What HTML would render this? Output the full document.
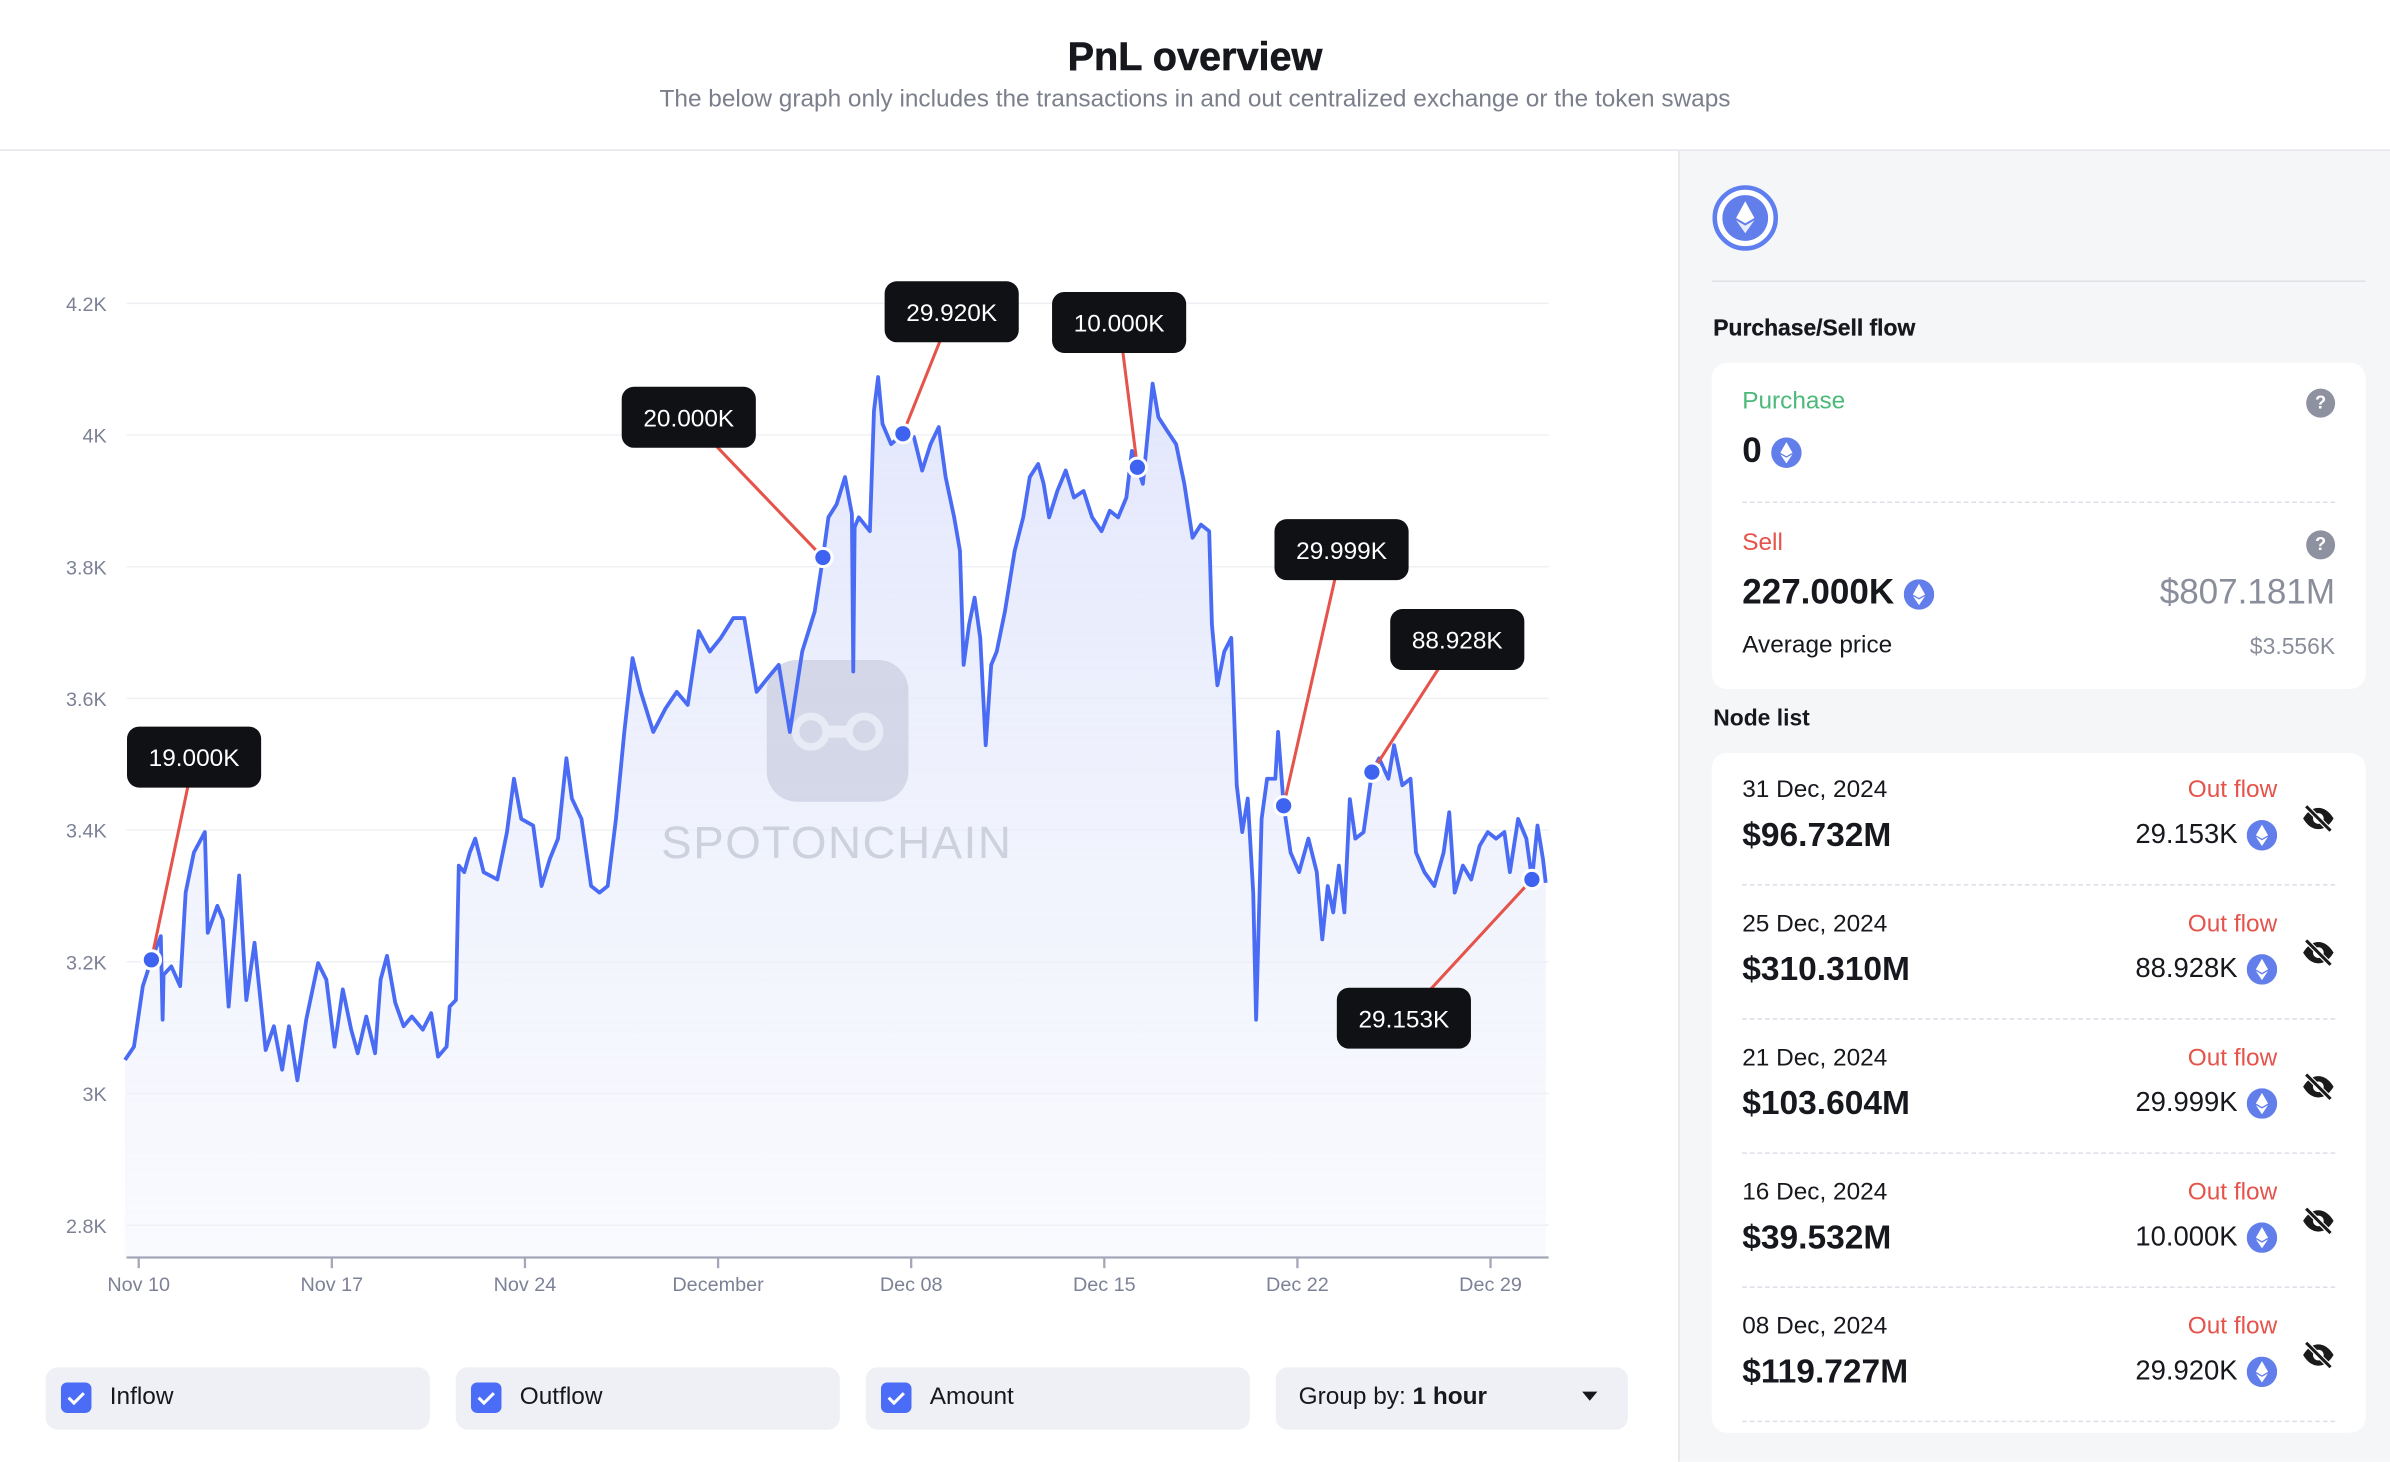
<!DOCTYPE html>
<html><head><meta charset="utf-8">
<style>
html,body{margin:0;padding:0;background:#fff;overflow:hidden;}
body{width:2390px;height:1462px;}
#root{position:absolute;left:0;top:0;width:1568px;height:959px;transform:scale(1.52423);transform-origin:0 0;font-family:"Liberation Sans",sans-serif;color:#16181d;}
.abs{position:absolute;}
.title{left:0;width:1568px;top:22px;text-align:center;font-size:26px;font-weight:bold;-webkit-text-stroke:0.4px #16181d;}
.sub{left:0;width:1568px;top:57px;text-align:center;font-size:16px;color:#7b7f8c;}
.hline{left:0;top:98px;width:1568px;height:1px;background:#e3e5ea;}
.right{left:1101px;top:99px;width:467px;height:860px;background:#f5f6f8;border-left:1px solid #e3e5ea;}
.card{background:#fff;border-radius:10px;}
.lg{top:897px;height:41px;background:#eef0f5;border-radius:8px;font-size:16px;}
.cb{position:absolute;left:10px;top:10px;width:20px;height:20px;background:#4a6cf7;border-radius:4px;}
.lg span.t{position:absolute;left:42px;top:11px;}
.eth{display:inline-block;width:20px;height:20px;vertical-align:middle;}
.row .d{position:absolute;left:20px;font-size:16px;}
.row .v{position:absolute;left:20px;font-size:22px;font-weight:bold;}
.row .o{position:absolute;right:58px;font-size:16px;color:#e5534b;}
.row .a{position:absolute;right:58px;font-size:18px;}
.sep{position:absolute;left:20px;right:20px;height:0;border-top:1px dashed #dcdfe6;}
</style></head><body>
<div id="root">
<div class="abs title">PnL overview</div>
<div class="abs sub">The below graph only includes the transactions in and out centralized exchange or the token swaps</div>
<div class="abs hline"></div>

<svg class="abs" style="left:0;top:0" width="1100" height="880" id="chart">
<defs><linearGradient id="fillg" x1="0" y1="0" x2="0" y2="1"><stop offset="0" stop-color="#dfe4fb" stop-opacity="0.9"/><stop offset="1" stop-color="#f3f5fd" stop-opacity="0.5"/></linearGradient></defs>
<g id="grid"></g>
<path id="area" fill="url(#fillg)"/>
<g id="wm">
<rect x="503" y="433" width="93" height="93" rx="20" fill="#cdd1e2" opacity="0.8"/>
<circle cx="532" cy="480" r="10" fill="none" stroke="#e8ebf5" stroke-width="5"/>
<circle cx="567" cy="480" r="10" fill="none" stroke="#e8ebf5" stroke-width="5"/>
<rect x="540" y="476" width="19" height="8" fill="#e8ebf5"/>
<text x="549" y="563" text-anchor="middle" font-size="30" fill="#cdd0dd" font-family="Liberation Sans" letter-spacing="1">SPOTONCHAIN</text>
</g>
<path id="line" fill="none" stroke="#4a6cf4" stroke-width="2.5" stroke-linejoin="round"/>
<g id="axis"></g>
<g id="ann"></g>
</svg>

<div class="abs lg" style="left:30px;width:252px"><div class="cb"><svg width="20" height="20"><path d="M5 10l3.5 3.5L15 7" stroke="#fff" stroke-width="2" fill="none"/></svg></div><span class="t">Inflow</span></div>
<div class="abs lg" style="left:299px;width:252px"><div class="cb"><svg width="20" height="20"><path d="M5 10l3.5 3.5L15 7" stroke="#fff" stroke-width="2" fill="none"/></svg></div><span class="t">Outflow</span></div>
<div class="abs lg" style="left:568px;width:252px"><div class="cb"><svg width="20" height="20"><path d="M5 10l3.5 3.5L15 7" stroke="#fff" stroke-width="2" fill="none"/></svg></div><span class="t">Amount</span></div>
<div class="abs lg" style="left:837px;width:231px"><span style="position:absolute;left:15px;top:11px">Group by: <b>1 hour</b></span><span style="position:absolute;right:20px;top:16px;width:0;height:0;border-left:5px solid transparent;border-right:5px solid transparent;border-top:6px solid #16181d"></span></div>

<div class="abs right">
 <svg class="abs" style="left:21px;top:22px" width="44" height="44"><circle cx="22" cy="22" r="20" fill="#fff" stroke="#5f7ff0" stroke-width="3"/><circle cx="22" cy="22" r="15" fill="#627eea"/><path d="M22 11l-6 11 6 3.5 6-3.5z" fill="#fff"/><path d="M22 27l-6-3.5 6 8.5 6-8.5z" fill="#fff" opacity=".85"/></svg>
 <div class="abs" style="left:21px;top:85px;width:429px;height:1px;background:#dfe1e7"></div>
 <div class="abs" style="left:22px;top:108px;font-size:15px;font-weight:bold;-webkit-text-stroke:0.2px #16181d">Purchase/Sell flow</div>
 <div class="abs card" style="left:21px;top:139px;width:429px;height:214px">
  <div class="abs" style="left:20px;top:17px;font-size:16px;color:#4cb97a">Purchase</div>
  <div class="abs" style="right:20px;top:17px;width:19px;height:19px;border-radius:50%;background:#8d91a0;color:#fff;font-size:12px;text-align:center;line-height:19px;font-weight:bold">?</div>
  <div class="abs" style="left:20px;top:44px;font-size:23px;font-weight:bold">0 <svg class="eth" viewBox="0 0 20 20"><circle cx="10" cy="10" r="10" fill="#627eea"/><path d="M10 3l-4 7 4 2.3 4-2.3z M10 13.3l-4-2.3 4 6 4-6z" fill="#fff"/></svg></div>
  <div class="sep" style="top:91px"></div>
  <div class="abs" style="left:20px;top:110px;font-size:16px;color:#e5534b">Sell</div>
  <div class="abs" style="right:20px;top:110px;width:19px;height:19px;border-radius:50%;background:#8d91a0;color:#fff;font-size:12px;text-align:center;line-height:19px;font-weight:bold">?</div>
  <div class="abs" style="left:20px;top:137px;font-size:23px;font-weight:bold">227.000K <svg class="eth" viewBox="0 0 20 20"><circle cx="10" cy="10" r="10" fill="#627eea"/><path d="M10 3l-4 7 4 2.3 4-2.3z M10 13.3l-4-2.3 4 6 4-6z" fill="#fff"/></svg></div>
  <div class="abs" style="right:20px;top:137px;font-size:23px;color:#8a8e9b">$807.181M</div>
  <div class="abs" style="left:20px;top:177px;font-size:16px">Average price</div>
  <div class="abs" style="right:20px;top:178px;font-size:15px;color:#8a8e9b">$3.556K</div>
 </div>
 <div class="abs" style="left:22px;top:364px;font-size:15px;font-weight:bold">Node list</div>
 <div class="abs card" style="left:21px;top:395px;width:429px;height:446px;overflow:hidden" id="nodes"></div>
</div>
</div>
<script>
// ---- chart data ----
const days=[-0.5,-0.17,0.15,0.46,0.8,0.87,0.9,1.18,1.5,1.7,2.0,2.4,2.5,2.85,3.05,3.26,3.64,3.9,4.2,4.6,4.9,5.2,5.45,5.75,6.07,6.5,6.8,7.1,7.4,7.7,7.94,8.25,8.57,8.77,9.0,9.3,9.6,9.9,10.3,10.6,10.85,11.16,11.27,11.5,11.6,11.8,12.0,12.2,12.5,13.0,13.35,13.6,13.87,14.3,14.6,14.9,15.2,15.5,15.7,16.05,16.4,16.7,17.0,17.3,17.6,17.9,18.2,18.65,19.1,19.5,19.9,20.3,20.7,21.1,21.55,21.95,22.4,22.8,23.2,23.6,24.05,24.5,24.8,25.0,25.3,25.6,25.85,25.9,25.95,26.1,26.5,26.65,26.8,26.96,27.27,27.7,28.1,28.4,28.7,29.0,29.25,29.56,29.77,29.9,30.1,30.3,30.5,30.7,30.9,31.1,31.4,31.75,32.06,32.3,32.6,32.8,33.0,33.3,33.6,33.9,34.25,34.56,34.9,35.2,35.5,35.8,36.0,36.2,36.4,36.75,36.96,37.27,37.6,37.9,38.2,38.5,38.8,38.9,39.1,39.35,39.6,39.8,40.0,40.2,40.4,40.5,40.7,40.9,41.2,41.3,41.5,41.75,42.06,42.4,42.7,42.9,43.1,43.3,43.5,43.7,43.9,44.1,44.4,44.7,44.96,45.3,45.5,45.8,46.1,46.3,46.6,46.96,47.3,47.5,47.7,48.0,48.3,48.6,48.9,49.2,49.5,49.7,50.0,50.3,50.5,50.7,50.9,51.0];
const prices=[3051,3071,3163,3203,3239,3112,3180,3193,3163,3305,3366,3397,3244,3285,3264,3132,3331,3142,3229,3066,3102,3036,3102,3020,3112,3198,3173,3071,3158,3097,3061,3117,3061,3173,3209,3138,3102,3117,3097,3122,3056,3071,3132,3142,3346,3336,3366,3387,3336,3325,3397,3478,3417,3407,3315,3356,3387,3509,3448,3417,3315,3305,3315,3417,3549,3661,3610,3549,3585,3610,3590,3702,3671,3692,3722,3722,3610,3631,3651,3549,3671,3732,3814,3875,3895,3936,3880,3641,3860,3875,3854,4037,4088,4017,3986,4002,3997,3946,3986,4012,3936,3875,3824,3651,3712,3753,3692,3529,3651,3671,3732,3824,3875,3936,3956,3926,3875,3915,3946,3905,3915,3875,3854,3885,3875,3905,3976,3951,3926,4078,4027,4007,3986,3926,3844,3864,3854,3712,3620,3671,3692,3468,3397,3448,3305,3112,3417,3478,3478,3549,3437,3366,3336,3387,3336,3234,3315,3275,3346,3275,3447,3387,3397,3488,3509,3478,3529,3468,3478,3366,3336,3315,3366,3427,3305,3346,3325,3376,3397,3387,3397,3336,3417,3387,3325,3407,3356,3320];
const yTicks=[2800,3000,3200,3400,3600,3800,4000,4200];
const yTickLabels=["2.8K","3K","3.2K","3.4K","3.6K","3.8K","4K","4.2K"];
const xTickDays=[0,7,14,21,28,35,42,49];
const xTickLabels=["Nov 10","Nov 17","Nov 24","December","Dec 08","Dec 15","Dec 22","Dec 29"];
const markerDays=[0.46,24.8,27.7,36.2,41.5,44.7,50.5];
const markerPrices=[3203,3814,4002,3951,3437,3488,3325];
const markerLabels=["19.000K","20.000K","29.920K","10.000K","29.999K","88.928K","29.153K"];
const labelOffsets=[[28,-133],[-88,-92],[32,-80],[-12,-95],[38,-168],[56,-87],[-84,91]];

const X=d=>91+d*18.1;
const Y=p=>199+(4200-p)/200*86.4;
const NS="http://www.w3.org/2000/svg";
function mk(tag,attrs,parent){const e=document.createElementNS(NS,tag);for(const k in attrs)e.setAttribute(k,attrs[k]);parent.appendChild(e);return e;}
const grid=document.getElementById('grid');
yTicks.forEach((t,i)=>{
 const l=mk('line',{x1:83,x2:1016,y1:Y(t),y2:Y(t),stroke:'#eef0f4','stroke-width':1},grid);
 
 
 const tx=mk('text',{x:70,y:Y(t)+5,'text-anchor':'end','font-size':13,fill:'#7d8196','font-family':'Liberation Sans'},grid);
 tx.textContent=yTickLabels[i];
 
 
});
let d='';days.forEach((dd,i)=>{d+=(i?'L':'M')+X(dd).toFixed(1)+' '+Y(prices[i]).toFixed(1);});
document.getElementById('line').setAttribute('d',d);
document.getElementById('line');
document.getElementById('line');
const area=document.getElementById('area');
area.setAttribute('d',d+'L'+X(days[days.length-1]).toFixed(1)+' 825L'+X(days[0]).toFixed(1)+' 825Z');


const ax=document.getElementById('axis');
const al=mk('line',{x1:83,x2:1016,y1:825,y2:825,stroke:'#a3a7b8','stroke-width':1.5},ax);


xTickDays.forEach((t,i)=>{
 mk('line',{x1:X(t),x2:X(t),y1:825,y2:832,stroke:'#a3a7b8','stroke-width':1.5},ax);
 const tx=mk('text',{x:X(t),y:847,'text-anchor':'middle','font-size':13,fill:'#7d8196','font-family':'Liberation Sans'},ax);
 tx.textContent=xTickLabels[i];
 
 
});
const ann=document.getElementById('ann');
markerDays.forEach((md,i)=>{
 const px=X(md),py=Y(markerPrices[i]);
 const bx=px+labelOffsets[i][0],by=py+labelOffsets[i][1];
 const g=mk('g',{},ann);
 
 
 mk('line',{x1:bx,y1:by,x2:px,y2:py,stroke:'#e5534b','stroke-width':2},g);
 mk('circle',{cx:px,cy:py,r:6,fill:'#3d63f0',stroke:'#fff','stroke-width':2},g);
 mk('rect',{x:bx-44,y:by-20,width:88,height:40,rx:8,fill:'#101114'},g);
 const t=mk('text',{x:bx,y:by+6,'text-anchor':'middle','font-size':16,fill:'#fff','font-family':'Liberation Sans'},g);
 t.textContent=markerLabels[i];
});
// ---- node list ----
const nodeDates=["31 Dec, 2024","25 Dec, 2024","21 Dec, 2024","16 Dec, 2024","08 Dec, 2024"];
const nodeValues=["$96.732M","$310.310M","$103.604M","$39.532M","$119.727M"];
const nodeAmounts=["29.153K","88.928K","29.999K","10.000K","29.920K"];
const nodes=document.getElementById('nodes');
const eth='<svg class="eth" viewBox="0 0 20 20" style="margin-left:6px"><circle cx="10" cy="10" r="10" fill="#627eea"/><path d="M10 3l-4 7 4 2.3 4-2.3z M10 13.3l-4-2.3 4 6 4-6z" fill="#fff"/></svg>';
const eye='<svg width="24" height="20" viewBox="0 0 24 20"><path d="M2 10c3-5 6.5-7 10-7s7 2 10 7c-3 5-6.5 7-10 7S5 15 2 10z" fill="#1a1a1a"/><circle cx="12" cy="10" r="3.5" fill="#fff"/><line x1="4" y1="2" x2="20" y2="18" stroke="#fff" stroke-width="3.5"/><line x1="4" y1="2" x2="20" y2="18" stroke="#1a1a1a" stroke-width="2"/></svg>';
nodeDates.forEach((nd,i)=>{
 const r=document.createElement('div');
 r.className='row';
 r.style.cssText='position:absolute;left:0;width:429px;top:'+(i*88)+'px;height:88px';
 
 
 r.innerHTML='<div class="d" style="top:16px">'+nd+'</div><div class="v" style="top:41px">'+nodeValues[i]+'</div><div class="o" style="top:16px">Out flow</div><div class="a" style="top:43px">'+nodeAmounts[i]+eth+'</div><div style="position:absolute;right:19px;top:33px">'+eye+'</div><div class="sep" style="top:86px"></div>';
 nodes.appendChild(r);
});
</script>
</body></html>
